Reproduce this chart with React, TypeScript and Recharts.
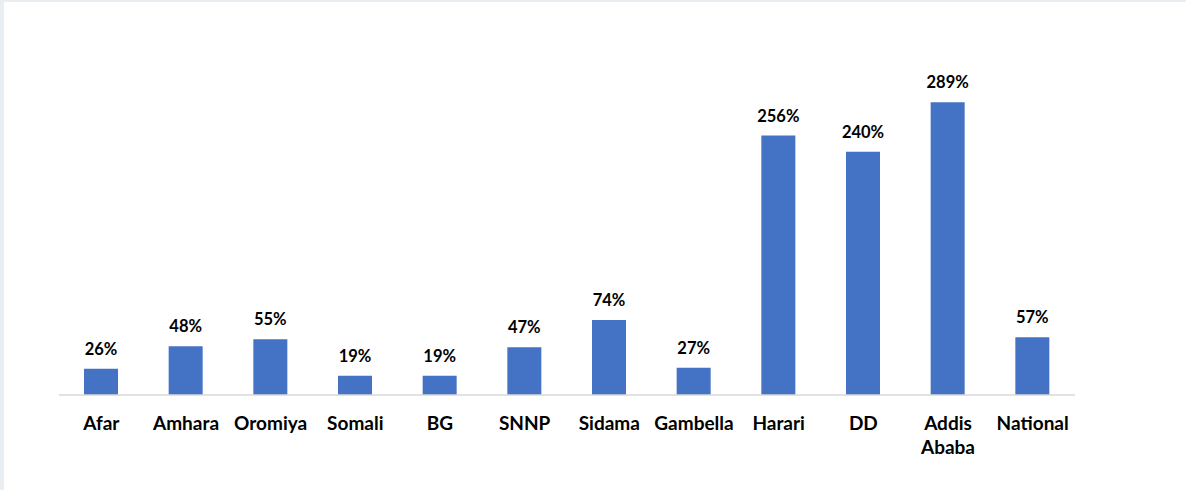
import { Bar, BarChart, LabelList, XAxis, YAxis } from "recharts"

const regions = ["Afar", "Amhara", "Oromiya", "Somali", "BG", "SNNP", "Sidama", "Gambella", "Harari", "DD", "Addis Ababa", "National"]
const values = [26, 48, 55, 19, 19, 47, 74, 27, 256, 240, 289, 57]

const data = regions.map((name, i) => ({ name, value: values[i] }))

const font = "Lato, 'Open Sans', sans-serif"

function RegionTick({ x, y, payload }: any) {
  const words: string[] = String(payload.value).split(" ")
  return (
    <text x={x} y={y} textAnchor="middle" fill="#000" fontFamily={font} fontWeight="bold" fontSize={19}>
      {words.map((w, i) => (
        <tspan key={i} x={x} dy={i === 0 ? 35 : 24}>
          {w}
        </tspan>
      ))}
    </text>
  )
}

export default function App() {
  return (
    <div style={{ position: "fixed", left: 0, top: 0, width: 1186, height: 490, background: "#e8eef2" }}>
      <div style={{ position: "absolute", left: 4, top: 2, width: 1182, height: 488, background: "#fff" }}>
        <div style={{ position: "absolute", left: -4, top: -2 }}>
          <BarChart width={1186} height={490} data={data} margin={{ top: 91, right: 111, bottom: 0, left: 59 }}>
            <YAxis hide domain={[0, 300]} />
            <XAxis
              dataKey="name"
              height={95}
              axisLine={{ stroke: "#d9d9d9", strokeWidth: 1.5 }}
              tickLine={false}
              tickSize={0}
              tickMargin={0}
              interval={0}
              tick={<RegionTick />}
            />
            <Bar dataKey="value" fill="#4472c4" barSize={34} isAnimationActive={false}>
              <LabelList
                dataKey="value"
                position="top"
                offset={14}
                formatter={(v: any) => `${v}%`}
                fill="#000"
                fontFamily={font}
                fontWeight="bold"
                fontSize={16.5}
              />
            </Bar>
          </BarChart>
        </div>
      </div>
    </div>
  )
}
